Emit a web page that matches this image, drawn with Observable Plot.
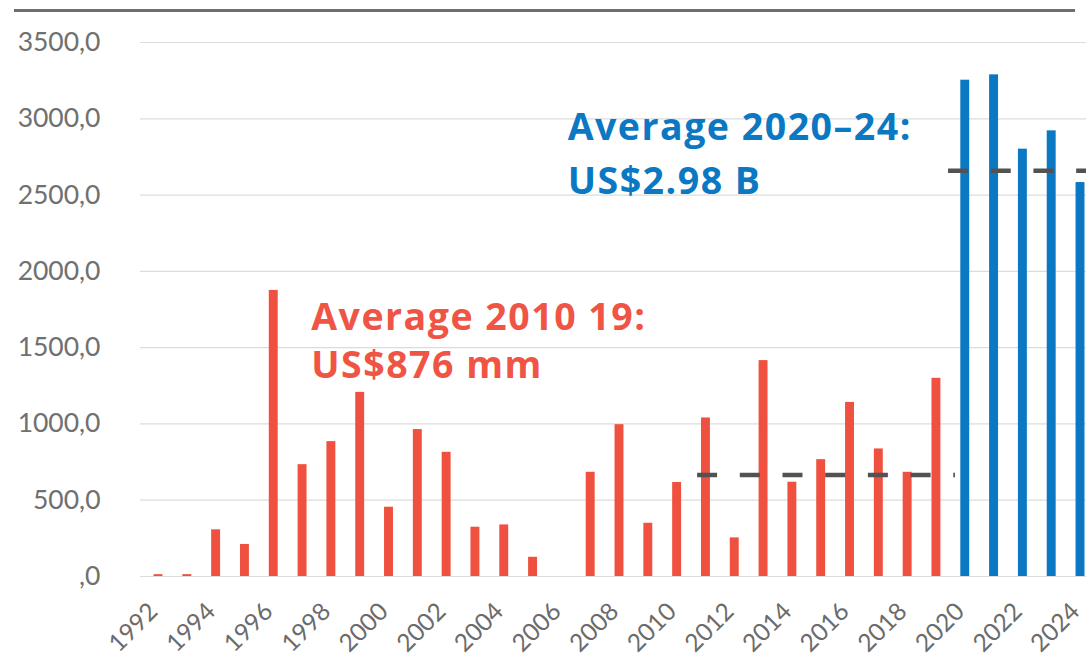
<!DOCTYPE html>
<html>
<head>
<meta charset="utf-8">
<script src="https://cdn.jsdelivr.net/npm/d3@7"></script>
<script src="https://cdn.jsdelivr.net/npm/@observablehq/plot@0.6"></script>
<style>
  html, body { margin: 0; padding: 0; background: #fff; }
  #wrap { position: relative; width: 1086px; height: 661px; overflow: hidden; }
  #topline { position: absolute; left: 14px; top: 9px; width: 1061px; height: 3px; background: #6e6e6e; }
  #chart { position: absolute; left: 0; top: 0; }
</style>
</head>
<body>
<div id="wrap">
  <div id="chart"></div>
  <div id="topline"></div>
</div>
<script>
// Data (US$ millions)
const years = [1992,1993,1994,1995,1996,1997,1998,1999,2000,2001,2002,2003,2004,2005,2006,2007,2008,2009,2010,2011,2012,2013,2014,2015,2016,2017,2018,2019,2020,2021,2022,2023,2024];
const values = [12,12,306,210,1875,733,884,1207,454,963,814,323,338,126,0,683,995,349,616,1039,253,1415,618,766,1141,836,683,1299,3253,3288,2801,2921,2582];
const periodOf = years.map(y => y >= 2020 ? "2020-24" : "1992-2019");

// Average dashed lines (as drawn in the picture)
const avgPeriods = ["2010-19", "2020-24"];
const avgLevels = [666, 2659];
const avgFrom = [2010.71, 2019.42];
const avgTo = [2019.66, 2024.25];

// Annotations
const noteLines = ["Average 2010 19:", "US$876 mm", "Average 2020–24:", "US$2.98 B"];
const noteYear = [1997.3, 1997.3, 2006.2, 2006.2];
const noteValue = [1613, 1298, 2859, 2508];
const notePeriod = ["2010-19", "2010-19", "2020-24", "2020-24"];

const yTicks = [0, 500, 1000, 1500, 2000, 2500, 3000, 3500];
const xTicks = [1992,1994,1996,1998,2000,2002,2004,2006,2008,2010,2012,2014,2016,2018,2020,2022,2024];

const RED = "#f0503f";
const BLUE = "#0a78c2";
const halfW = 0.155;

const bars = years.map((y, i) => ({year: y, value: values[i], period: periodOf[i]}));
const avgs = avgPeriods.map((p, i) => ({period: p, level: avgLevels[i], from: avgFrom[i], to: avgTo[i]}));
const notes = noteLines.map((t, i) => ({text: t, year: noteYear[i], value: noteValue[i], period: notePeriod[i]}));

const chart = Plot.plot({
  width: 1086,
  height: 661,
  marginLeft: 140,
  marginRight: 0,
  marginTop: 42,
  marginBottom: 85,
  style: {fontFamily: "Lato, 'Open Sans', sans-serif", background: "#fff", overflow: "visible"},
  x: {domain: [1991.375, 2024.208], ticks: xTicks, tickFormat: d => String(d), label: null},
  y: {domain: [0, 3500], ticks: yTicks, label: null},
  marks: [
    Plot.gridY(yTicks, {stroke: "#dcdcdc", strokeOpacity: 1, strokeWidth: 1.2}),
    Plot.axisY(yTicks, {
      tickSize: 0, tickPadding: 40, fontSize: 26.5, fill: "#707070",
      tickFormat: d => d === 0 ? ",0" : d + ",0", label: null
    }),
    Plot.axisX(xTicks, {
      tickSize: 0, tickPadding: 31, tickRotate: -45, fontSize: 24.5, fill: "#6b6b6b",
      dx: -5, tickFormat: d => String(d), label: null
    }),
    Plot.rectY(bars, {
      x1: d => d.year - halfW, x2: d => d.year + halfW, y: "value",
      fill: d => d.period === "2020-24" ? BLUE : RED
    }),
    Plot.ruleY(avgs, {
      y: "level", x1: "from", x2: "to",
      stroke: "#525252", strokeWidth: 4.5, strokeDasharray: "20,22.7"
    }),
    Plot.text(notes, {
      x: "year", y: "value", text: "text",
      textAnchor: "start", lineAnchor: "bottom",
      fontSize: 37.5, fontWeight: "bold", fontFamily: "'Open Sans', sans-serif",
      fill: d => d.period === "2020-24" ? BLUE : "#ef5444"
    })
  ]
});
d3.select(chart).selectAll("g[aria-label='text'] text").style("letter-spacing", "1.5px");
document.getElementById("chart").appendChild(chart);
</script>
</body>
</html>
